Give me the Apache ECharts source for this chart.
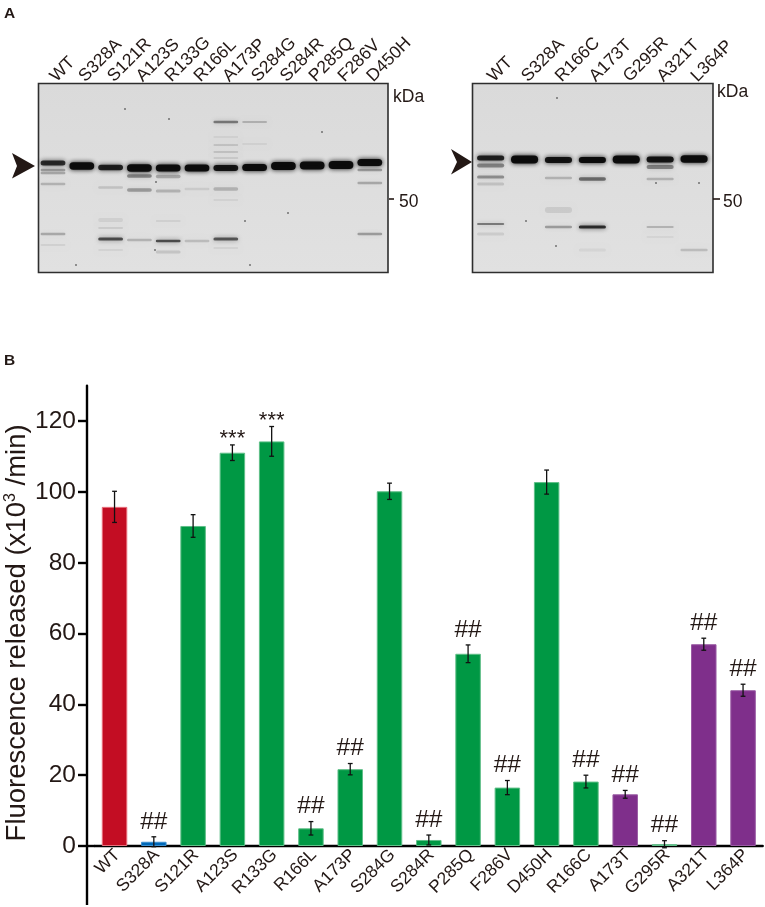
<!DOCTYPE html>
<html><head><meta charset="utf-8"><style>html,body{margin:0;padding:0;background:#fff}#c{width:765px;height:907px}</style>
<script src="https://cdn.jsdelivr.net/npm/echarts@6/dist/echarts.min.js"></script></head><body><div id="c"></div><script>
const categories=['WT','S328A','S121R','A123S','R133G','R166L','A173P','S284G','S284R','P285Q','F286V','D450H','R166C','A173T','G295R','A321T','L364P'];
const values=[95.8,1.2,90.4,111.1,114.3,5.0,21.7,100.2,1.7,54.3,16.5,102.8,18.2,14.6,0.5,57.0,44.0];
const errors=[4.4,1.4,3.2,2.2,4.2,1.9,1.6,2.3,1.4,2.5,2.0,3.4,1.8,1.1,1.0,1.7,1.7];
const groups=['wt','ctl','g','g','g','g','g','g','g','g','g','g','g','p','g','p','p'];
const marks=['','##','','***','***','##','##','','##','##','##','','##','##','##','##','##'];
const yTicks=[0,20,40,60,80,100,120];
const gelALanes=['WT','S328A','S121R','A123S','R133G','R166L','A173P','S284G','S284R','P285Q','F286V','D450H'];
const gelBLanes=['WT','S328A','R166C','A173T','G295R','A321T','L364P'];
// [lane, migration (gel units), band thickness, darkness]
const gelABands=[[0,80,5,.8],[0,87,2.5,.3],[0,90,2.5,.25],[0,101,2.5,.2],[0,151,2.5,.25],[0,162,2,.07],
[1,83,7.5,.98],
[2,84.5,5.5,.85],[2,104.5,2.5,.13],[2,137,4,.07],[2,145,2,.09],[2,156,3,.65],[2,167,2,.06],
[3,85,7.5,.98],[3,93,3.5,.4],[3,107,3.5,.3],[3,157,2.5,.2],
[4,85,7,.98],[4,93.5,3.5,.25],[4,108,3,.2],[4,138,2,.07],[4,158,2.5,.65],[4,169,3,.12],
[5,85,7,.98],[5,106,2.5,.09],[5,158,2.5,.16],
[6,39,2.5,.45],[6,54,2,.06],[6,62,2,.12],[6,69,2,.12],[6,75,2,.09],[6,85,6,.92],[6,106,3.5,.2],[6,117,2,.06],[6,156,3,.6],[6,165,2,.06],
[7,39,2,.2],[7,61,2,.06],[7,84.5,7,.98],
[8,83,8,.98],[9,82.5,8,.98],[10,82,8,.98],
[11,79.5,7,.98],[11,87,2.5,.3],[11,100,2.5,.25],[11,151,2.5,.3]];
const gelBBands=[[0,75,5,.85],[0,82.5,4,.4],[0,94,3,.35],[0,101,3,.13],[0,141,2,.45],[0,151,3,.09],
[1,76.5,8,.98],
[2,77,6,.92],[2,95,2.5,.2],[2,127,6,.09],[2,144,2.5,.3],
[3,77,6,.98],[3,96,3.5,.5],[3,144,3,.8],[3,167,3,.05],
[4,76.5,8,.98],
[5,76.5,6,.92],[5,84,4,.4],[5,96,2.5,.2],[5,144,2,.2],[5,154,2,.05],
[6,76,7.5,.98],[6,167,2.5,.16]];
const colors={wt:'#c30d23',ctl:'#0068b7',g:'#009844',p:'#7f2f8b'};
const edges={wt:'#e8707c',ctl:'#3b8fd0',g:'#5fbf88',p:'#9a5ca4'};
const ink='#231815',font='"Liberation Sans",Arial,sans-serif';

function bandRender(laneWidth){return function(params,api){
  const p=api.coord([api.value(0),api.value(1)]);
  const h=api.value(2),d=api.value(3),w=api.size([1,0])[0]*laneWidth;
  const c='rgba(10,10,10,'+d+')';
  return {type:'rect',shape:{x:p[0]-w/2,y:p[1]-h/2,width:w,height:h,r:h/2},
    style:{fill:c,shadowBlur:5,shadowColor:c}};
};}
function gelX(i,lanes){return {gridIndex:i,type:'category',data:lanes,position:'top',
  axisLine:{show:false},axisTick:{show:false},
  axisLabel:{interval:0,rotate:45,fontSize:17.5,color:ink,fontFamily:font,margin:4}};}
function gelY(i){return {gridIndex:i,type:'value',min:0,max:190,inverse:true,show:false};}
function poly(pts){return {type:'polygon',shape:{points:pts},style:{fill:ink}};}
function txt(x,y,t,s,w){return {type:'text',x,y,style:{text:t,fontSize:s,fontWeight:w||'normal',fill:ink,fontFamily:font,textVerticalAlign:'middle'}};}
function gelFrame(x,w){return {type:'rect',z:-1,shape:{x:x,y:83.5,width:w,height:189},
  style:{fill:{type:'linear',x:0,y:0,x2:0,y2:1,colorStops:[{offset:0,color:'#dadada'},{offset:1,color:'#e1e1e1'}]},stroke:'#2e2e2e',lineWidth:1.6}};}
function tick(x1,x2,y){return {type:'line',shape:{x1,y1:y,x2,y2:y},style:{stroke:ink,lineWidth:1.6}};}
const specks=[[125,109],[169,119],[322,132],[76,265],[250,265],[156,182],[288,213],[245,221],[155,250],[557,98],[526,221],[656,183],[556,246],[699,183]];

const chart=echarts.init(document.getElementById('c'),null,{renderer:'canvas'});
chart.setOption({animation:false,
 grid:[{left:94.9,width:667.8,top:385.8,height:460.2,outerBoundsMode:'none'},
       {left:38.6,width:345.6,top:83,height:190,outerBoundsMode:'none'},
       {left:473.7,width:237.3,top:83,height:190,outerBoundsMode:'none'}],
 xAxis:[{gridIndex:0,type:'category',data:categories,
   axisLine:{lineStyle:{color:'#000',width:2.4}},axisTick:{show:false},
   axisLabel:{interval:0,rotate:45,fontSize:17.5,color:ink,fontFamily:font,margin:9,padding:[0,-4,0,0]}},
   gelX(1,gelALanes),gelX(2,gelBLanes)],
 yAxis:[{gridIndex:0,type:'value',min:0,max:130,offset:7.9,splitLine:{show:false},
   name:'{a|Fluorescence released (x10}{s|3}{a| /min)}',nameLocation:'middle',nameGap:56,nameMoveOverlap:false,
   nameTextStyle:{padding:[0,34,0,0],rich:{a:{fontSize:27.5,fontFamily:font,color:ink},s:{fontSize:16,fontFamily:font,color:ink,verticalAlign:'top',padding:[0,0,10,0]}}},
   axisLine:{show:true,onZero:false,lineStyle:{color:'#000',width:2.4}},
   axisTick:{show:true,length:9,customValues:yTicks,lineStyle:{color:'#000',width:2.4}},
   axisLabel:{customValues:yTicks,fontSize:24.5,color:ink,fontFamily:font,margin:11}},
   gelY(1),gelY(2)],
 series:[
  {type:'bar',xAxisIndex:0,yAxisIndex:0,barWidth:25.5,z:2,
   data:values.map((v,i)=>({value:v,itemStyle:{color:colors[groups[i]],borderColor:edges[groups[i]],borderWidth:1}}))},
  {type:'custom',xAxisIndex:0,yAxisIndex:0,z:5,clip:false,
   data:values.map((v,i)=>[i,v,errors[i],marks[i]]),
   renderItem(params,api){
     const i=api.value(0),v=api.value(1),e=api.value(2),m=marks[i];
     const t=api.coord([i,v+e]),b=api.coord([i,v-e]),cap=2.4;
     const st={stroke:'#111',lineWidth:1.3};
     const kids=[
       {type:'line',shape:{x1:t[0],y1:t[1],x2:b[0],y2:b[1]},style:st},
       {type:'line',shape:{x1:t[0]-cap,y1:t[1],x2:t[0]+cap,y2:t[1]},style:st},
       {type:'line',shape:{x1:b[0]-cap,y1:b[1],x2:b[0]+cap,y2:b[1]},style:st}];
     if(m) kids.push({type:'text',x:t[0],y:t[1]-(m==='##'?15:6),style:{text:m,fontSize:m==='##'?24.5:22,fill:ink,fontFamily:font,align:'center',verticalAlign:'middle'}});
     return {type:'group',children:kids};
   }},
  {type:'custom',xAxisIndex:1,yAxisIndex:1,clip:false,data:gelABands,renderItem:bandRender(.86),encode:{x:0,y:1}},
  {type:'custom',xAxisIndex:2,yAxisIndex:2,clip:false,data:gelBBands,renderItem:bandRender(.8),encode:{x:0,y:1}}
 ],
 graphic:[
  gelFrame(38.5,349.5),gelFrame(472.5,240.5),
  poly([[35,166],[12,153],[17,166],[12,178.5]]),
  poly([[472,162],[451,149],[457,162],[451,174.5]]),
  txt(393,97,'kDa',17.5),txt(717,92,'kDa',17.5),
  tick(389,394,199),tick(713,720,199),
  txt(399,202,'50',17.5),txt(723,202,'50',17.5),
  txt(4,14,'A',15.5,'bold'),txt(4,361,'B',15.5,'bold'),
  {type:'line',shape:{x1:86,y1:846,x2:95,y2:846},style:{stroke:'#000',lineWidth:2.4}},
  {type:'line',shape:{x1:87,y1:846,x2:87,y2:905},style:{stroke:'#000',lineWidth:2.4}},
  ...specks.map(s=>({type:'circle',shape:{cx:s[0],cy:s[1],r:.8},style:{fill:'#222'}}))
 ]
});
</script></body></html>
